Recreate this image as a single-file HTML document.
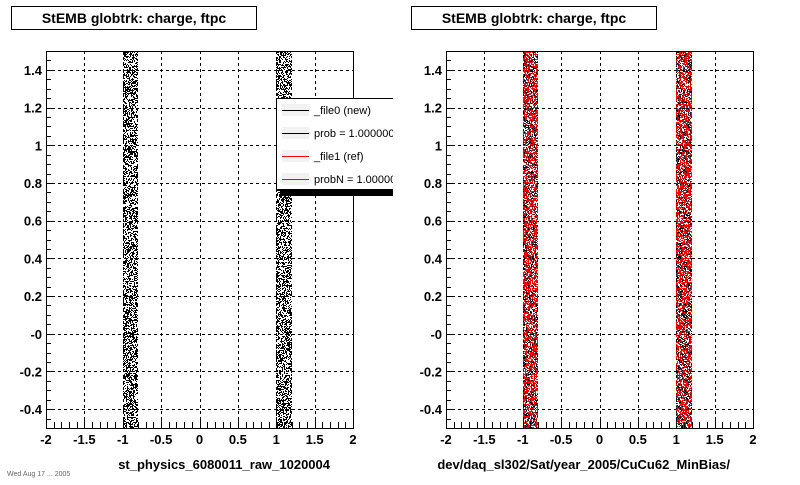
<!DOCTYPE html>
<html><head><meta charset="utf-8"><style>
body{margin:0;background:#fff;width:800px;height:480px;overflow:hidden;font-family:"Liberation Sans",sans-serif}
svg text{font-family:"Liberation Sans",sans-serif}
</style></head><body>
<svg id="c" width="800" height="480" xmlns="http://www.w3.org/2000/svg">
<defs><clipPath id="lclip"><rect x="0" y="0" width="393" height="480"/></clipPath></defs>
</svg>
<script>
// data
const xTicks=[-2,-1.5,-1,-0.5,0,0.5,1,1.5,2];
const xTickLabels=["-2","-1.5","-1","-0.5","0","0.5","1","1.5","2"];
const yTicks=[1.4,1.2,1,0.8,0.6,0.4,0.2,0,-0.2,-0.4];
const yTickLabels=["1.4","1.2","1","0.8","0.6","0.4","0.2","-0","-0.2","-0.4"];
const bandXmin=[-1.0,1.0];
const bandXmax=[-0.8,1.2];
const bandDensityNew=[0.5,0.5];
const bandDensityRef=[0.5,0.5];
const legendLabels=["_file0 (new)","prob = 1.000000","_file1 (ref)","probN = 1.000000"];
const legendColors=["#000","#000","#f00","#f00"];

const NS="http://www.w3.org/2000/svg";
const svg=document.getElementById('c');
function el(t,a,p){const e=document.createElementNS(NS,t);for(const k in a)e.setAttribute(k,a[k]);(p||svg).appendChild(e);return e;}
function hash(i,j,s){let h=(i*374761393+j*668265263+s*2147483647)|0;h=(h^(h>>>13))*1274126177|0;h=h^(h>>>16);return (h>>>0)/4294967296;}

function panel(x0,title,xTitle,withRef,withLegend,pid){
  const L=x0+46,R=x0+353,T=51,B=428;
  const sx=v=>L+(v+2)/4*(R-L);
  const sy=v=>B-(v+0.5)/2*(B-T);
  const g=el('g',{});
  
  const tb=el('rect',{x:x0+11.5,y:6.5,width:245,height:23,fill:'#fff',stroke:'#000'},g);
  
  const tt=el('text',{x:x0+134,y:23,'text-anchor':'middle','font-size':'14','font-weight':'bold'},g);
  tt.textContent=title;
  xTicks.forEach(v=>{if(v>-2&&v<2)el('line',{x1:Math.round(sx(v))+0.5,x2:Math.round(sx(v))+0.5,y1:T,y2:B,stroke:'#000','stroke-dasharray':'3,3','stroke-width':1},g);});
  yTicks.forEach(v=>el('line',{x1:L,x2:R,y1:Math.round(sy(v))+0.5,y2:Math.round(sy(v))+0.5,stroke:'#000','stroke-dasharray':'3,3'},g));
  const pts=(b,dens,seed)=>{let d='';const xa=Math.round(sx(bandXmin[b])),xb=Math.round(sx(bandXmax[b]));
    for(let x=xa;x<xb;x++)for(let y=T;y<B;y++){if(hash(x,y,seed)<dens)d+='M'+x+' '+y+'h1v1h-1z';}return d;};
  for(let b=0;b<bandXmin.length;b++){
    const p=el('path',{d:pts(b,bandDensityNew[b],1),fill:'#000'},g);
    
    if(withRef){const r=el('path',{d:pts(b,bandDensityRef[b],7),fill:'#f00'},g);
      }
  }
  const fr=el('rect',{x:L+0.5,y:T+0.5,width:R-L,height:B-T,fill:'none',stroke:'#000'},g);
  
  for(let v=-2;v<=2.001;v+=0.1){const x=Math.round(sx(v))+0.5;const big=Math.abs(v*2-Math.round(v*2))<1e-6;
    el('line',{x1:x,x2:x,y1:B,y2:B-(big?11:6),stroke:'#000'},g);}
  for(let v=-0.5;v<=1.501;v+=0.05){const y=Math.round(sy(v))+0.5;const big=Math.abs(v*5-Math.round(v*5))<1e-6;
    el('line',{x1:L,x2:L+(big?9:5),y1:y,y2:y,stroke:'#000'},g);}
  xTicks.forEach((v,i)=>{const t=el('text',{x:sx(v),y:444,'text-anchor':'middle','font-size':'13','font-weight':'bold'},g);
    t.textContent=xTickLabels[i];});
  yTicks.forEach((v,i)=>{const t=el('text',{x:L-4,y:sy(v)+5,'text-anchor':'end','font-size':'13','font-weight':'bold'},g);
    t.textContent=yTickLabels[i];});
  const xt=el('text',{x:R-23,y:469,'text-anchor':'end','font-size':'13','font-weight':'bold'},g);
  xt.textContent=xTitle;
  if(withLegend){
    const lg=el('g',{'clip-path':'url(#lclip)'},g);
    el('rect',{x:280,y:102,width:120,height:94,fill:'#000'},lg);
    el('rect',{x:276.5,y:98.5,width:120,height:91,fill:'#fff',stroke:'#000'},lg);
    legendLabels.forEach((s,i)=>{const y=110+i*23;
      el('rect',{x:282,y:y-6,width:27,height:12,fill:'#f2f2f2'},lg);
      const ln=el('line',{x1:282,x2:309,y1:y+0.5,y2:y+0.5,stroke:legendColors[i]},lg);
      
      const t=el('text',{x:314,y:y+4,'font-size':'11'},lg);t.textContent=s;
      });
  }
}
panel(0,"StEMB globtrk: charge, ftpc","st_physics_6080011_raw_1020004",false,true,'left');
panel(400,"StEMB globtrk: charge, ftpc","dev/daq_sl302/Sat/year_2005/CuCu62_MinBias/",true,false,'right');
const ft=el('text',{x:7,y:476,'font-size':'7',fill:'#666'});ft.textContent="Wed Aug 17 ... 2005";

</script>
</body></html>
